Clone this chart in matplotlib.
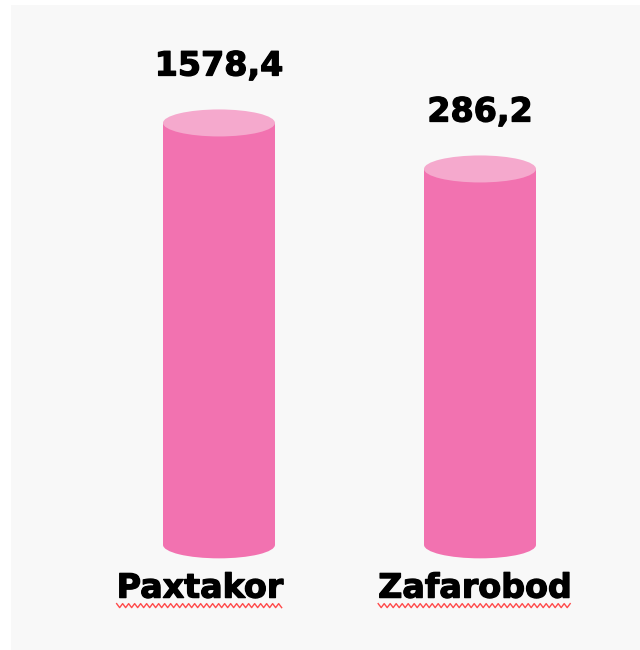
import matplotlib
matplotlib.use("Agg")
import numpy as np
import matplotlib.pyplot as plt
import matplotlib.patheffects as pe
from matplotlib.patches import Ellipse, Rectangle
from matplotlib.transforms import ScaledTranslation, IdentityTransform

# === data
categories = ["Paxtakor", "Zafarobod"]
values = [1578.4, 286.2]

body_color = "#f272b0"
top_color = "#f5a9cd"
heavy = [pe.withStroke(linewidth=0.9, foreground="black")]

fig = plt.figure(figsize=(6.4, 6.5), dpi=100)
fig.patch.set_facecolor("white")

ax = fig.add_axes([0, 0, 1, 1])
ax.patch.set_alpha(0)
ax.set_yscale("log")
xlim = (-0.839, 1.613)
ax.set_xlim(*xlim)
ax.set_ylim(10 ** -5.297, 10 ** 5.18)
ax.axis("off")

# light grey panel behind everything
ax.add_patch(Rectangle((11 / 640, 0), 1, 645 / 650, transform=ax.transAxes,
                       facecolor="#f8f8f8", edgecolor="none", zorder=0))

base = 2.5e-4
width = 0.429
x = np.arange(len(values))
vals = np.array(values)

ax.bar(x, vals - base, bottom=base, width=width, color=body_color, zorder=2)

# ellipse size in inches (same width as the bar)
w_in = width * fig.get_figwidth() / (xlim[1] - xlim[0])
h_in = 0.27

for xi, v in zip(x, vals):
    for yv, col in [(base, body_color), (v, top_color)]:
        tr = fig.dpi_scale_trans + ScaledTranslation(xi, yv, ax.transData)
        ax.add_patch(Ellipse((0, 0), w_in, h_in, transform=tr, facecolor=col,
                             edgecolor="none", zorder=3, clip_on=False))
    ax.annotate(f"{v:.1f}".replace(".", ","), (xi, v), xytext=(0, 41),
                textcoords="offset points", ha="center", va="center",
                fontsize=24, fontweight="bold", color="black", path_effects=heavy)

# category labels
label_dx = [-13.7, -3.6]
texts = []
for xi, name, dx in zip(x, categories, label_dx):
    t = ax.annotate(name, (xi, base), xytext=(dx, -38), textcoords="offset points",
                    ha="center", va="baseline", fontsize=24, fontweight="bold",
                    color="black", annotation_clip=False, path_effects=heavy)
    texts.append(t)

# red spell-check wavy underline under the labels
fig.canvas.draw()
renderer = fig.canvas.get_renderer()
for t in texts:
    bb = t.get_window_extent(renderer)
    xs = np.arange(bb.x0, bb.x1 + 1, 3)
    ys = bb.y0 - 1 + 2 * (-1) ** np.arange(len(xs))
    ax.plot(xs, ys, color="#ff4a4a", lw=1, transform=IdentityTransform(), clip_on=False)

fig.savefig("out.png", dpi=100, facecolor=fig.get_facecolor())
